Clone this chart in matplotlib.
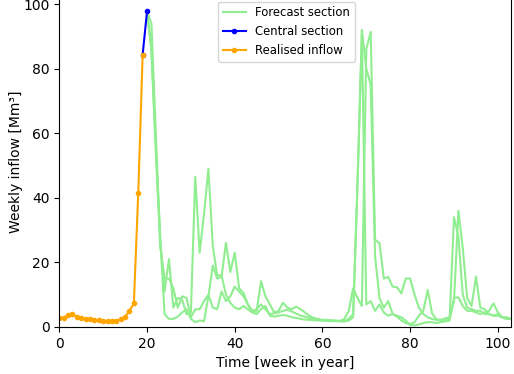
import matplotlib
matplotlib.use("Agg")
import matplotlib.pyplot as plt
import numpy as np

# realised inflow, weeks 0..19
realised_weeks = np.arange(0, 20)
realised = [2.9, 2.9, 3.6, 3.9, 3.2, 2.9, 2.6, 2.4, 2.2, 2.1,
            1.9, 1.8, 1.8, 1.9, 2.4, 3.2, 5.0, 7.3, 41.5, 84.3]

# central section, weeks 19..20
central_weeks = [19, 20]
central = [84.3, 97.7]

# forecast sections, weeks 20..103
forecast_weeks = np.arange(20, 104)
forecast_a = [
    97.7, 94, 60, 27, 11, 21, 6, 9, 8.5, 4,          # 20-29
    4.5, 46.5, 23, 35, 49, 25, 16, 16, 10, 7.5,      # 30-39
    6, 5.5, 6.5, 5.5, 4.5, 5, 14.2, 9.5, 7, 4.5,     # 40-49
    5, 7.5, 6, 5.5, 6.3, 5.5, 4.5, 3.5, 2.8, 2.5,    # 50-59
    2.2, 2.2, 2.0, 2.0, 1.8, 1.7, 2, 3, 45, 92,      # 60-69
    80, 75, 22, 9, 6, 8, 4, 3.5, 3, 2,               # 70-79
    0.6, 0.5, 0.8, 1.2, 1.5, 1.5, 1.2, 1.5, 1.7, 2,  # 80-89
    9, 9.2, 6.5, 5, 5, 4.5, 4, 4.5, 5, 7.3,          # 90-99
    4.5, 3, 3, 2.5,                                  # 100-103
]
forecast_b = [
    97.7, 86, 55, 25, 15, 15, 12, 6, 9.5, 9,         # 20-29
    3, 5.5, 5.5, 8, 10, 6, 5.5, 11, 8, 9.5,          # 30-39
    12.5, 11, 9.5, 7, 5, 5.5, 7, 5.5, 4, 4.2,        # 40-49
    4.5, 5, 5.3, 4.8, 4.2, 3.5, 3.2, 2.8, 2.5, 2.3,  # 50-59
    2.0, 2.0, 2.0, 1.9, 1.9, 2.5, 5, 12, 9, 6.5,     # 60-69
    86, 91.4, 27, 26, 15, 15.5, 12.5, 12.3, 10.4, 15,  # 70-79
    15, 10, 6, 4, 3, 2.5, 2.2, 2, 2, 2.5,            # 80-89
    34, 28, 10, 6, 5.5, 5, 5, 4, 4, 3.5,             # 90-99
    3.5, 3, 2.5, 2.5,                                # 100-103
]
forecast_c = [
    97.7, 86, 55, 28, 4, 2.5, 2.5, 3.2, 4.5, 5.5,    # 20-29
    2.5, 1.5, 2, 1.8, 9.5, 19, 15, 15.5, 26, 17,     # 30-39
    23, 12, 10.5, 7, 4.5, 4, 5.5, 6.5, 3.5, 3.2,     # 40-49
    3.5, 3.7, 3.5, 3.0, 2.8, 2.5, 2.3, 2.2, 2.1, 2.0,  # 50-59
    2.0, 1.9, 1.8, 1.8, 1.8, 1.8, 2.5, 4, 44, 91,    # 60-69
    7, 8, 5, 7, 4.5, 3.5, 4, 3.2, 2, 1.2,            # 70-79
    0.9, 1.5, 3.5, 5, 11.5, 4.2, 2.4, 2.2, 2.7, 3,   # 80-89
    8, 36, 24.4, 9, 6.5, 15.6, 6, 5.5, 4, 3.5,       # 90-99
    4, 3, 2.5, 2.5,                                  # 100-103
]

fig = plt.figure(figsize=(5.14, 3.74), dpi=100)
ax = fig.add_axes([0.1154, 0.1257, 0.8788, 0.886])

green = "#90ee90"
for i, series in enumerate([forecast_a, forecast_b, forecast_c]):
    ax.plot(forecast_weeks, series, color=green, linewidth=1.5,
            label="Forecast section" if i == 0 else None)
ax.plot(central_weeks, central, color="blue", marker=".", markersize=6,
        linewidth=1.5, label="Central section")
ax.plot(realised_weeks, realised, color="orange", marker=".", markersize=6,
        linewidth=1.5, label="Realised inflow")

ax.set_xlim(0, 103)
ax.set_ylim(0, 102.6)
ax.set_xlabel("Time [week in year]")
ax.set_ylabel("Weekly inflow [Mm³]", labelpad=0)

ax.legend(loc="upper left", bbox_to_anchor=(218 / 514, 1 - 1.5 / 374),
          bbox_transform=fig.transFigure, borderaxespad=0, fontsize=8.4)

fig.savefig("out.png", dpi=100)
